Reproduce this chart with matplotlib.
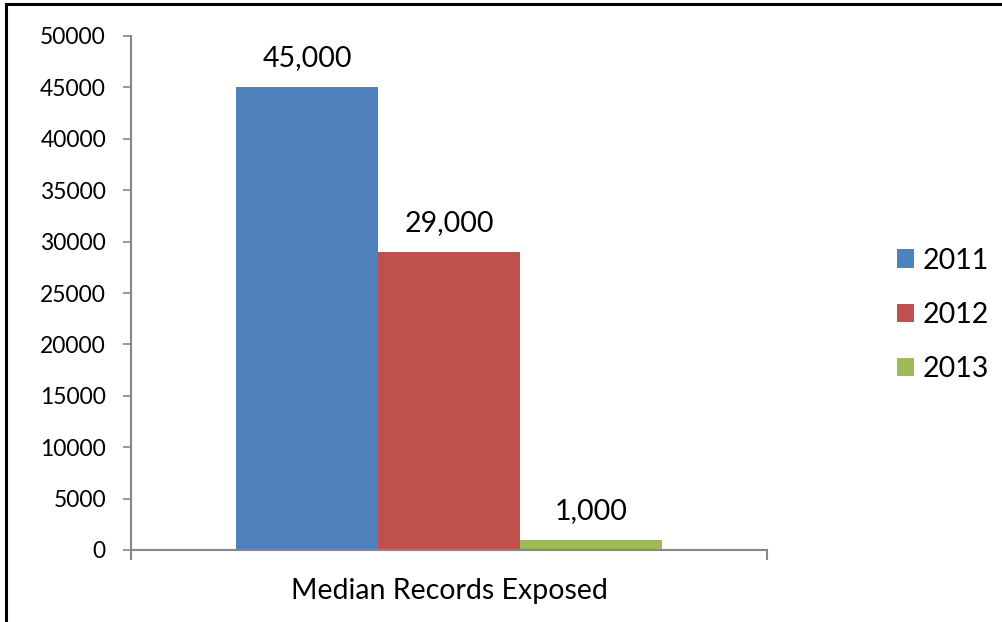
import matplotlib.pyplot as plt
from matplotlib.patches import Patch
from matplotlib.lines import Line2D

# data
category = "Median Records Exposed"
years = ["2011", "2012", "2013"]
values = [45000, 29000, 1000]
value_labels = ["45,000", "29,000", "1,000"]
colors = ["#4F81BD", "#C0504D", "#9BBB59"]
yticks = list(range(0, 50001, 5000))

plt.rcParams['font.family'] = ['Lato', 'DejaVu Sans']

fig = plt.figure(figsize=(10.03, 6.22), dpi=100)
ax = fig.add_axes([131 / 1003, 72 / 622, 636 / 1003, 514 / 622])

bar_w = 142 / 636
offsets = [-bar_w, 0, bar_w]
for off, v, c, lab in zip(offsets, values, colors, value_labels):
    ax.bar(off, v, width=bar_w, color=c, zorder=2)
    ax.annotate(lab, (off, v), xytext=(0, 21), textcoords='offset points',
                ha='center', va='center', fontsize=20.5, color='black')

ax.set_xlim(-0.5, 0.5)
ax.set_ylim(0, 50000)
ax.set_yticks(yticks)
ax.set_yticklabels([str(t) for t in yticks])

for s in ['top', 'right']:
    ax.spines[s].set_visible(False)
for s in ['left', 'bottom']:
    ax.spines[s].set_color('#868686')
    ax.spines[s].set_linewidth(1.5)

ax.tick_params(axis='y', length=6, width=1.2, color='#868686', labelsize=16.5, pad=12)
ax.set_xticks([0])
ax.set_xticklabels([category])
ax.tick_params(axis='x', which='major', length=0, labelsize=20.5, pad=20)
ax.set_xticks([-0.5, 0.5], minor=True)
ax.tick_params(axis='x', which='minor', length=7, width=1.5, color='#868686')

handles = [Patch(facecolor=c, edgecolor='none', label=y) for c, y in zip(colors, years)]
fig.legend(handles=handles, loc='center left', bbox_to_anchor=(897 / 1003, 1 - 315 / 622),
           frameon=False, fontsize=20.5, handlelength=0.6, handleheight=0.6,
           handletextpad=0.3, labelspacing=1.0, borderpad=0, borderaxespad=0)

# outer frame (left and top edges visible)
fig.add_artist(Line2D([6 / 1003, 6 / 1003], [0, 1 - 3.5 / 622], color='black', lw=2.2,
                      transform=fig.transFigure))
fig.add_artist(Line2D([6 / 1003, 1], [1 - 3.5 / 622, 1 - 3.5 / 622], color='black', lw=2.2,
                      transform=fig.transFigure))

fig.savefig('out.png', dpi=100)
